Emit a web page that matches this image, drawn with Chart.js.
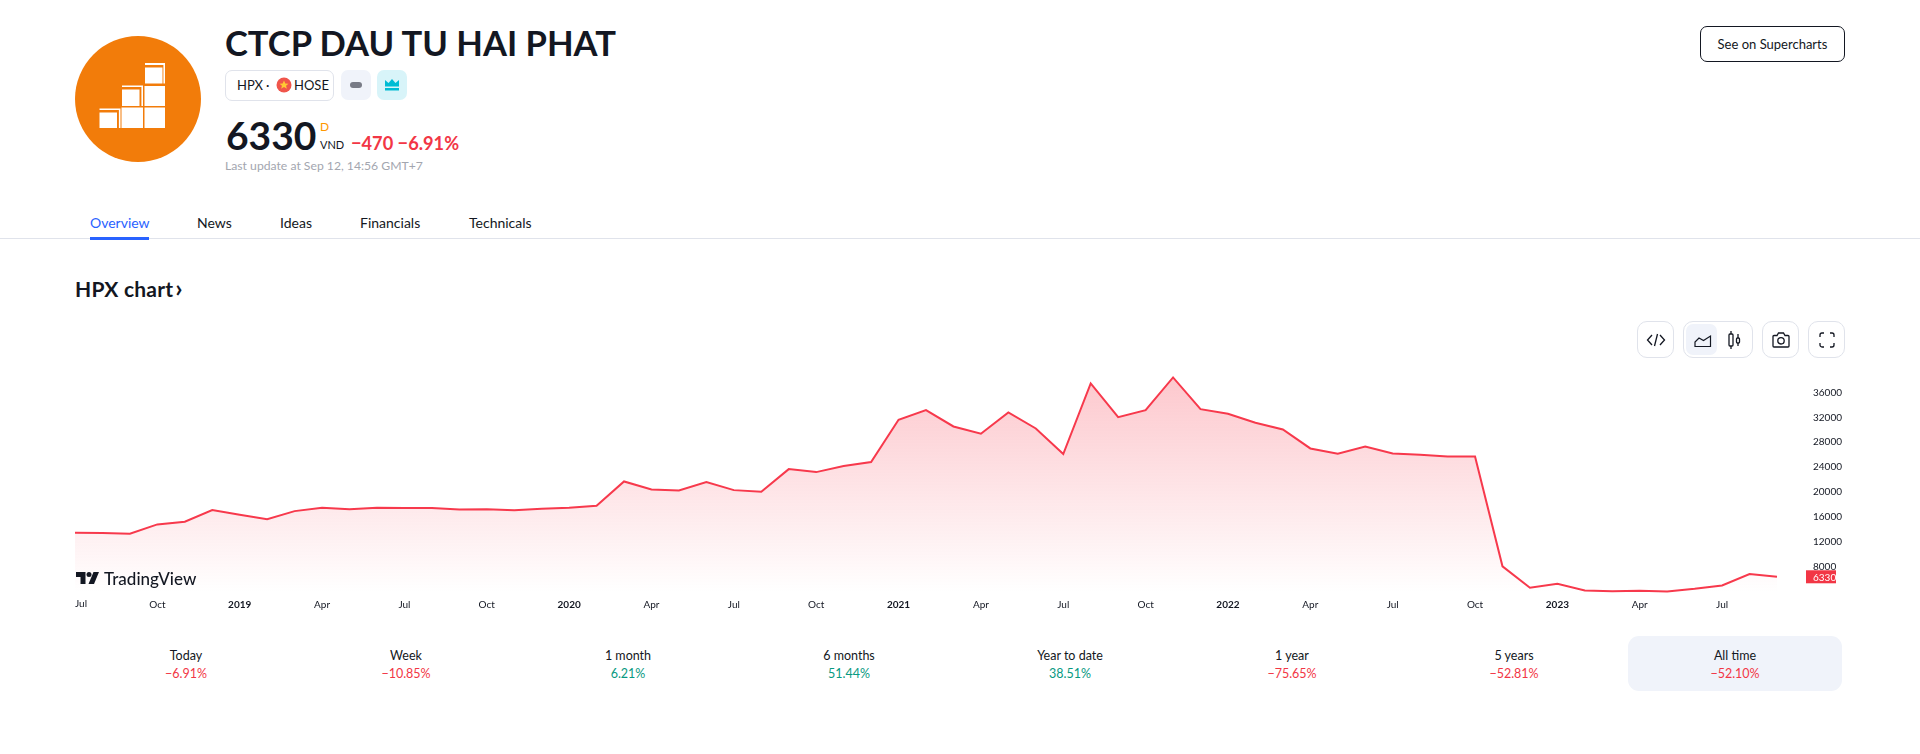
<!DOCTYPE html>
<html>
<head>
<meta charset="utf-8">
<title>HPX chart</title>
<script src="https://cdn.jsdelivr.net/npm/chart.js@4"></script>
<style>
  html, body { margin: 0; padding: 0; background: #fff; }
  body { width: 1920px; height: 754px; position: relative; overflow: hidden; font-family: Lato, "Open Sans", sans-serif; color: #131722; }
  .abs { position: absolute; white-space: nowrap; }
  .chip { position: absolute; box-sizing: border-box; border-radius: 7px; }
  .iconBtn { position: absolute; box-sizing: border-box; border: 1px solid #e0e3eb; border-radius: 10px; background: #fff; }
  .iconBtn svg, .chip svg { position: absolute; }
  .nav { position: absolute; top: 214px; font-size: 14px; line-height: 18px; white-space: nowrap; }
  .stat { position: absolute; top: 647px; width: 214px; text-align: center; font-size: 12.5px; line-height: 18px; }
  #chartBox { position: absolute; left: 60px; top: 340px; width: 1790px; height: 280px; }
</style>
</head>
<body>

<!-- logo -->
<svg class="abs" style="left:75px;top:36px" width="126" height="126" viewBox="75 36 126 126">
  <circle cx="138" cy="99" r="63" fill="#f27c0a"/>
  <g fill="#fff">
    <rect x="99.5" y="112.5" width="17.5" height="15.5"/>
    <path d="M99.5 108.5h21v19.5h-1.6v-18h-19.4z"/>
    <rect x="121.5" y="107.5" width="21.5" height="20.5"/>
    <rect x="144.5" y="107.5" width="20.5" height="20.5"/>
    <rect x="122" y="89.5" width="17.5" height="16.5"/>
    <path d="M122 85.5h21v20.5h-1.6v-19h-19.4z"/>
    <rect x="144.5" y="86" width="20.5" height="20"/>
    <rect x="145" y="67.5" width="17.5" height="16"/>
    <path d="M145 63h20v20.5h-1.6v-18.500h-18.400z"/>
  </g>
</svg>

<div class="abs" id="title" style="left:225px;top:21px;font-size:34.6px;line-height:44px;font-weight:700">CTCP DAU TU HAI PHAT</div>

<div class="chip" style="left:225px;top:70px;width:109px;height:31px;border:1px solid #e0e3eb"></div>
<div class="abs" style="left:237px;top:77px;font-size:13px;line-height:16px">HPX</div>
<div class="abs" style="left:266px;top:77px;font-size:13px;line-height:16px">·</div>
<svg class="abs" style="left:276px;top:77px" width="16" height="16" viewBox="0 0 16 16">
  <circle cx="8" cy="8" r="7.500" fill="#f0554b"/>
  <path d="M8 3.500l1.300 3 3.200.2-2.500 2 .9 3.100L8 10l-2.900 1.800.9-3.100-2.500-2 3.200-.2z" fill="#ffc933"/>
</svg>
<div class="abs" style="left:294px;top:77px;font-size:13px;line-height:16px">HOSE</div>
<div class="chip" style="left:341px;top:70px;width:30px;height:30px;background:#f0f3fa">
  <svg style="left:9px;top:12px" width="12" height="6"><rect width="12" height="6" rx="3" fill="#787b86"/></svg>
</div>
<div class="chip" style="left:377px;top:70px;width:30px;height:30px;background:#d8f4f9">
  <svg style="left:8px;top:8px" width="14" height="14" viewBox="0 0 14 14">
    <path d="M0 2l3.500 3L7 1l3.500 4L14 2v6.500H0z" fill="#00bcd4"/><rect y="10" width="14" height="2.500" fill="#00bcd4"/>
  </svg>
</div>

<div class="abs" id="price" style="left:226px;top:113px;font-size:39px;line-height:44px;font-weight:700">6330</div>
<div class="abs" style="left:320px;top:119px;font-size:12px;line-height:15px;color:#ff9800">D</div>
<div class="abs" style="left:320px;top:137px;font-size:11px;line-height:15px">VND</div>
<div class="abs" id="change" style="left:351px;top:132px;font-size:18.2px;line-height:22px;font-weight:700;color:#f23645">−470 −6.91%</div>
<div class="abs" id="updated" style="left:225px;top:158px;font-size:12.2px;line-height:16px;color:#a3a6af">Last update at Sep 12, 14:56 GMT+7</div>

<!-- See on Supercharts -->
<div class="abs" style="left:1700px;top:26px;width:145px;height:36px;box-sizing:border-box;border:1px solid #131722;border-radius:7px;text-align:center;font-size:13px;line-height:34px">See on Supercharts</div>

<!-- tabs -->
<div class="nav" style="left:90px;color:#2962ff">Overview</div>
<div class="nav" style="left:197px">News</div>
<div class="nav" style="left:280px">Ideas</div>
<div class="nav" style="left:360px">Financials</div>
<div class="nav" style="left:469px">Technicals</div>
<div class="abs" style="left:0;top:238px;width:1920px;height:1px;background:#e0e3eb"></div>
<div class="abs" style="left:90px;top:237px;width:59px;height:3px;background:#2962ff"></div>

<div class="abs" id="chartTitle" style="left:75px;top:276px;font-size:21px;line-height:26px;font-weight:700;letter-spacing:0.2px">HPX chart<span style="font-size:25px;line-height:20px;margin-left:2px">›</span></div>

<!-- chart toolbar -->
<div class="iconBtn" style="left:1637px;top:321px;width:37px;height:37px">
  <svg style="left:8px;top:8px" width="20" height="20" viewBox="0 0 20 20" fill="none" stroke="#131722" stroke-width="1.300">
    <path d="M6 5l-4.500 5L6 15M14 5l4.500 5L14 15M11.500 4l-3 12"/>
  </svg>
</div>
<div class="iconBtn" style="left:1683px;top:321px;width:70px;height:37px">
  <div class="chip" style="left:2px;top:2px;width:31px;height:31px;background:#f0f3fa"></div>
  <svg style="left:10px;top:9px" width="18" height="18" viewBox="0 0 18 18" fill="none" stroke="#131722" stroke-width="1.200">
    <path d="M1 15.500V11l4-4 4.500 2.500L16.500 5v10.500z"/>
  </svg>
  <svg style="left:43px;top:8px" width="16" height="20" viewBox="0 0 16 20" fill="none" stroke="#131722" stroke-width="1.300">
    <path d="M4 1v3M4 16v3M11 4v4M11 13v3"/><rect x="2" y="4" width="4" height="12" rx="1"/><rect x="9.500" y="8" width="3" height="5" rx="1"/>
  </svg>
</div>
<div class="iconBtn" style="left:1762px;top:321px;width:37px;height:37px">
  <svg style="left:9px;top:10px" width="18" height="16" viewBox="0 0 18 16" fill="none" stroke="#131722" stroke-width="1.300">
    <path d="M1 4.500a1 1 0 0 1 1-1h3l1.500-2.500h5L13 3.500h3a1 1 0 0 1 1 1V14a1 1 0 0 1-1 1H2a1 1 0 0 1-1-1z"/><circle cx="9" cy="8.800" r="3.200"/>
  </svg>
</div>
<div class="iconBtn" style="left:1808px;top:321px;width:37px;height:37px">
  <svg style="left:10px;top:10px" width="16" height="16" viewBox="0 0 16 16" fill="none" stroke="#131722" stroke-width="1.300">
    <path d="M1 5V3a2 2 0 0 1 2-2h2M11 1h2a2 2 0 0 1 2 2v2M15 11v2a2 2 0 0 1-2 2h-2M5 15H3a2 2 0 0 1-2-2v-2"/>
  </svg>
</div>

<div id="chartBox"><canvas id="chart-hpx" width="1790" height="280"></canvas></div>

<!-- TradingView mark -->
<svg class="abs" style="left:76px;top:571px" width="23" height="14" viewBox="0 0 23 14">
  <path d="M0 1h9.500v12H4.500V6H0z" fill="#131722"/><circle cx="13" cy="3.500" r="2.500" fill="#131722"/><path d="M17.500 1H23l-5 12h-5.500z" fill="#131722"/>
</svg>
<div class="abs" id="tvText" style="left:104px;top:568px;font-size:17px;line-height:22px;font-weight:500">TradingView</div>

<div class="abs" style="left:1628px;top:636px;width:214px;height:55px;border-radius:11px;background:#f0f3fa"></div>
<div id="stats"></div>

<script>
'use strict';

const months = [
  'Jul 2018', 'Aug 2018', 'Sep 2018', 'Oct 2018', 'Nov 2018', 'Dec 2018',
  'Jan 2019', 'Feb 2019', 'Mar 2019', 'Apr 2019', 'May 2019', 'Jun 2019',
  'Jul 2019', 'Aug 2019', 'Sep 2019', 'Oct 2019', 'Nov 2019', 'Dec 2019',
  'Jan 2020', 'Feb 2020', 'Mar 2020', 'Apr 2020', 'May 2020', 'Jun 2020',
  'Jul 2020', 'Aug 2020', 'Sep 2020', 'Oct 2020', 'Nov 2020', 'Dec 2020',
  'Jan 2021', 'Feb 2021', 'Mar 2021', 'Apr 2021', 'May 2021', 'Jun 2021',
  'Jul 2021', 'Aug 2021', 'Sep 2021', 'Oct 2021', 'Nov 2021', 'Dec 2021',
  'Jan 2022', 'Feb 2022', 'Mar 2022', 'Apr 2022', 'May 2022', 'Jun 2022',
  'Jul 2022', 'Aug 2022', 'Sep 2022', 'Oct 2022', 'Nov 2022', 'Dec 2022',
  'Jan 2023', 'Feb 2023', 'Mar 2023', 'Apr 2023', 'May 2023', 'Jun 2023',
  'Jul 2023', 'Aug 2023', 'Sep 2023'
];

const closes = [
  13420, 13360, 13250, 14760, 15190, 17060,
  16310, 15610, 16900, 17440, 17220, 17440,
  17390, 17390, 17170, 17220, 17060, 17280,
  17440, 17760, 21680, 20390, 20230, 21570,
  20280, 20010, 23660, 23180, 24150, 24790,
  31610, 33160, 30530, 29350, 32790, 30210,
  26080, 37450, 32030, 33160, 38420, 33320,
  32570, 31120, 30050, 26990, 26130, 27310,
  26190, 25970, 25700, 25700, 8010, 4560,
  5200, 4130, 4020, 4080, 3970, 4400,
  4940, 6760, 6330
];

const priceTicks = [8000, 12000, 16000, 20000, 24000, 28000, 32000, 36000];

const statLabels = ['Today', 'Week', '1 month', '6 months', 'Year to date', '1 year', '5 years', 'All time'];
const statValues = ['−6.91%', '−10.85%', '6.21%', '51.44%', '38.51%', '−75.65%', '−52.81%', '−52.10%'];

const RED = '#f7394c';

// Jan shows the year, other quarters the month name, the rest nothing
function tickText(label) {
  const parts = label.split(' ');
  if (parts[0] === 'Jan') return parts[1];
  return ['Apr', 'Jul', 'Oct'].indexOf(parts[0]) >= 0 ? parts[0] : null;
}

function areaGradient(ctx) {
  const chart = ctx.chart;
  if (!chart.chartArea) return 'rgba(247,57,76,0.2)';
  const top = chart.scales.y.getPixelForValue(Math.max.apply(null, closes));
  const g = chart.ctx.createLinearGradient(0, top, 0, chart.chartArea.bottom);
  g.addColorStop(0, 'rgba(247,57,76,0.28)');
  g.addColorStop(1, 'rgba(247,57,76,0)');
  return g;
}

// first label gets pushed inside the plot, last price gets the red tag
const priceTagPlugin = {
  id: 'priceTag',
  afterDraw(chart) {
    const ctx = chart.ctx;
    const x = chart.scales.x;
    const y = chart.scales.y;
    const last = closes[closes.length - 1];
    const py = y.getPixelForValue(last);
    const right = chart.chartArea.right;

    ctx.save();
    ctx.fillStyle = '#f23645';
    ctx.fillRect(right + 29, py - 6.5, 30, 13);
    ctx.fillStyle = '#fff';
    ctx.font = '10px "Liberation Sans Narrow", Lato';
    ctx.textAlign = 'left';
    ctx.textBaseline = 'middle';
    ctx.fillText(String(last), right + 36, py + 0.5);

    ctx.fillStyle = '#131722';
    ctx.fillText(x.ticks[0].label, x.getPixelForTick(0), x.top + 11);
    ctx.restore();
  }
};

function initChart() {
  new Chart(document.getElementById('chart-hpx'), {
    type: 'line',
    data: {
      labels: months,
      datasets: [{
        data: closes,
        borderColor: RED,
        borderWidth: 2,
        backgroundColor: areaGradient,
        fill: 'start',
        tension: 0,
        pointRadius: 0
      }]
    },
    plugins: [priceTagPlugin],
    options: {
      responsive: false,
      animation: false,
      layout: { padding: { left: 15 } },
      plugins: { legend: { display: false }, tooltip: { enabled: false } },
      scales: {
        x: {
          grid: { display: false, drawTicks: false },
          border: { display: false },
          afterBuildTicks(axis) {
            axis.ticks = axis.ticks.filter(function(t) { return tickText(months[t.value]) !== null; });
          },
          afterFit(axis) { axis.height = 27; },
          ticks: {
            autoSkip: false,
            maxRotation: 0,
            padding: 6,
            callback(value) { return tickText(months[value]); },
            color(ctx) { return ctx.index === 0 ? 'transparent' : '#131722'; },
            font(ctx) {
              const isYear = ctx.tick && /^\d/.test(String(ctx.tick.label));
              return { family: '"Liberation Sans Narrow", Lato', size: 10, weight: isYear ? 'bold' : 'normal' };
            }
          }
        },
        y: {
          position: 'right',
          min: 3720,
          max: 43480,
          grid: { display: false, drawTicks: true, tickLength: 36, tickColor: 'transparent' },
          border: { display: false },
          afterBuildTicks(axis) {
            axis.ticks = priceTicks.map(function(v) { return { value: v }; });
          },
          afterFit(axis) { axis.width = 73; },
          ticks: {
            padding: 0,
            color: '#131722',
            font: { family: '"Liberation Sans Narrow", Lato', size: 10 },
            callback(value) { return String(value); }
          }
        }
      }
    }
  });
}

function initStats() {
  const box = document.getElementById('stats');
  const centres = [186, 406, 628, 849, 1070, 1292, 1514, 1735];
  statLabels.forEach(function(label, i) {
    const el = document.createElement('div');
    el.className = 'stat';
    el.style.left = (centres[i] - 107) + 'px';
    const val = statValues[i];
    const colour = val.charAt(0) === '−' ? '#f23645' : '#089981';
    el.innerHTML = '<div>' + label + '</div><div style="color:' + colour + '">' + val + '</div>';
    box.appendChild(el);
  });
}

initChart();
initStats();
</script>
</body>
</html>
